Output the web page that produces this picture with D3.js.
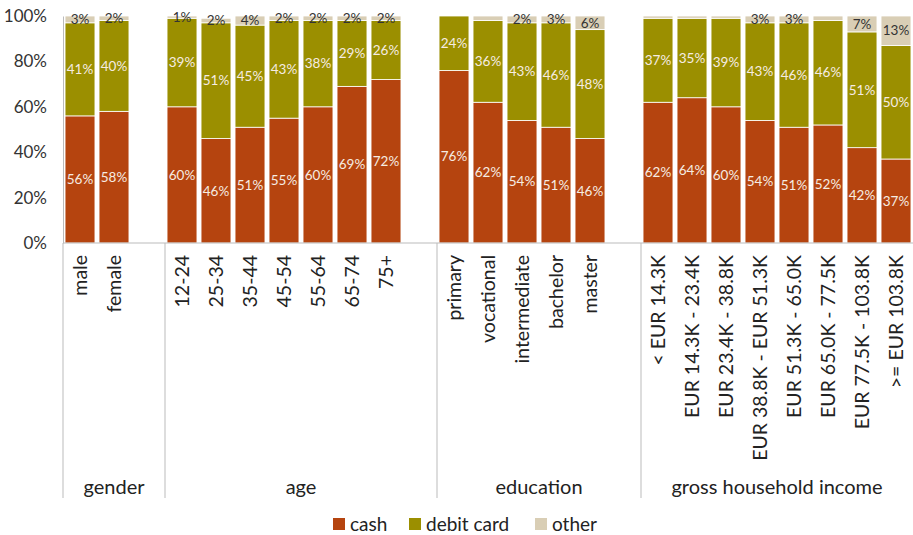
<!DOCTYPE html>
<html>
<head>
<meta charset="utf-8">
<script src="https://cdn.jsdelivr.net/npm/d3@7"></script>
<style>
  body { margin: 0; background: #fff; }
  text { font-family: Lato, "Open Sans", sans-serif; }
</style>
</head>
<body>
<div id="chart"></div>
<script>
// data
const groups = ["gender", "age", "education", "gross household income"];
const categories = [
  ["male", "female"],
  ["12-24", "25-34", "35-44", "45-54", "55-64", "65-74", "75+"],
  ["primary", "vocational", "intermediate", "bachelor", "master"],
  ["< EUR 14.3K", "EUR 14.3K - 23.4K", "EUR 23.4K - 38.8K", "EUR 38.8K - EUR 51.3K",
   "EUR 51.3K - 65.0K", "EUR 65.0K - 77.5K", "EUR 77.5K - 103.8K", ">= EUR 103.8K"]
];
const cash  = [56, 58,  60, 46, 51, 55, 60, 69, 72,  76, 62, 54, 51, 46,  62, 64, 60, 54, 51, 52, 42, 37];
const debit = [41, 40,  39, 51, 45, 43, 38, 29, 26,  24, 36, 43, 46, 48,  37, 35, 39, 43, 46, 46, 51, 50];
const other = [3, 2,  1, 2, 4, 2, 2, 2, 2,  0, 2, 3, 3, 6,  1, 1, 1, 3, 3, 2, 7, 13];
const otherLabels = ["3%", "2%",  "1%", "2%", "4%", "2%", "2%", "2%", "2%",  "", "", "2%", "3%", "6%",
                     "", "", "", "3%", "3%", "", "7%", "13%"];
const seriesNames = ["cash", "debit card", "other"];
const colors = ["#b5440f", "#9b8f00", "#d9ceb5"];
const yTicks = [0, 20, 40, 60, 80, 100];

const width = 913, height = 535;
const svg = d3.select("#chart").append("svg")
  .attr("width", width).attr("height", height);

// slots: categories with one empty slot between groups
const slots = [];
const rows = [];
let k = 0;
categories.forEach((cats, gi) => {
  if (gi > 0) slots.push("gap" + gi);
  cats.forEach(c => {
    slots.push(c);
    rows.push({ cat: c, group: groups[gi], cash: cash[k], debit: debit[k], other: other[k], otherLabel: otherLabels[k] });
    k++;
  });
});

const plotLeft = 63, plotTop = 16, plotBottom = 243;
const x = d3.scaleBand().domain(slots).range([plotLeft, plotLeft + 34 * slots.length])
  .paddingInner(0.12).paddingOuter(0.06);
const y = d3.scaleLinear().domain([0, 100]).range([plotBottom, plotTop]);

const stack = d3.stack().keys(["cash", "debit", "other"]);
const layers = stack(rows);

svg.append("g").selectAll("g")
  .data(layers)
  .join("g")
  .attr("fill", (d, i) => colors[i])
  .selectAll("rect")
  .data(d => d)
  .join("rect")
  .attr("x", d => x(d.data.cat))
  .attr("width", x.bandwidth())
  .attr("y", d => y(d[1]))
  .attr("height", d => Math.max(0, y(d[0]) - y(d[1])))
  .attr("stroke", "#fff")
  .attr("stroke-width", 0.8);

// value labels
layers.forEach((layer, i) => {
  svg.append("g").selectAll("text")
    .data(layer)
    .join("text")
    .attr("x", d => x(d.data.cat) + x.bandwidth() / 2)
    .attr("y", d => (y(d[0]) + y(d[1])) / 2)
    .attr("dy", "0.35em")
    .attr("text-anchor", "middle")
    .attr("font-size", 13.5)
    .attr("fill", i === 2 ? "#333" : "#f6ece2")
    .text(d => i === 2 ? d.data.otherLabel : Math.round(d[1] - d[0]) + "%");
});

// y axis
const yAxis = svg.append("g")
  .attr("transform", `translate(${plotLeft},0)`)
  .call(d3.axisLeft(y).tickValues(yTicks).tickFormat(d => d + "%").tickSize(0).tickPadding(16));
yAxis.select(".domain").attr("stroke", "#bbb");
yAxis.selectAll("text").attr("font-size", 17).attr("fill", "#333")
  .style("font-family", "Lato, sans-serif");

// x baseline
svg.append("line")
  .attr("x1", plotLeft).attr("x2", width)
  .attr("y1", plotBottom).attr("y2", plotBottom)
  .attr("stroke", "#bbb");

// group separators
const step = x.step();
let idx = 0;
const groupBounds = [];
categories.forEach((cats, gi) => {
  const start = idx;
  idx += cats.length + 1;
  groupBounds.push([plotLeft + step * start, plotLeft + step * (start + cats.length + (gi < categories.length - 1 ? 1 : 0))]);
});
svg.append("g").selectAll("line")
  .data(groupBounds)
  .join("line")
  .attr("x1", d => d[0]).attr("x2", d => d[0])
  .attr("y1", plotBottom).attr("y2", 498)
  .attr("stroke", "#bbb");

// category labels
svg.append("g").selectAll("text")
  .data(rows)
  .join("text")
  .attr("transform", d => `translate(${x(d.cat) + x.bandwidth() / 2},${plotBottom + 12}) rotate(-90)`)
  .attr("dy", "0.35em")
  .attr("text-anchor", "end")
  .attr("font-size", 19.5)
  .attr("fill", "#222")
  .text(d => d.cat);

// group labels, centred between the separators
svg.append("g").selectAll("text")
  .data(groups)
  .join("text")
  .attr("x", (d, i) => (groupBounds[i][0] + groupBounds[i][1]) / 2)
  .attr("y", 494)
  .attr("text-anchor", "middle")
  .attr("font-size", 20)
  .attr("fill", "#222")
  .text(d => d);

// legend
const legendX = [333, 409, 535];
const legend = svg.append("g").selectAll("g")
  .data(seriesNames)
  .join("g")
  .attr("transform", (d, i) => `translate(${legendX[i]},524)`);
legend.append("rect")
  .attr("x", 0).attr("y", -6).attr("width", 12).attr("height", 12)
  .attr("fill", (d, i) => colors[i]);
legend.append("text")
  .attr("x", 17).attr("dy", "0.35em")
  .attr("font-size", 19).attr("fill", "#222")
  .text(d => d);
</script>
</body>
</html>
